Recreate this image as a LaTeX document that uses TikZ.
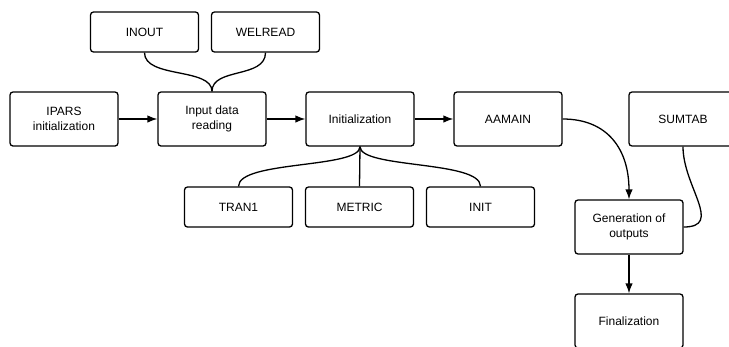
\documentclass[tikz,border=0pt]{standalone}
\usepackage{fontspec}
\setmainfont{Liberation Sans}
\usetikzlibrary{arrows.meta}
\begin{document}
\begin{tikzpicture}[x=1pt,y=-1pt,
  box/.style={draw=black, line width=1.3pt, rounded corners=3pt, fill=white,
    minimum width=108pt, minimum height=54pt, align=center, font=\fontsize{12}{14.5}\selectfont, inner sep=2pt},
  sbox/.style={box, minimum height=40pt},
  conn/.style={draw=black, line width=1.3pt},
  arr/.style={conn, -{Latex[length=10pt,width=7.5pt]}}]
\clip (0,0) rectangle (729,346);
\fill[white] (0,0) rectangle (729,346);
\node[sbox] (inout) at (144.5,32) {INOUT};
\node[sbox] (welread) at (265.5,32) {WELREAD};
\node[box] (ipars) at (64,119) {IPARS\\initialization};
\node[box] (input) at (212,119) {Input data\\reading};
\node[box] (initz) at (360,119) {Initialization};
\node[box] (aamain) at (508,119) {AAMAIN};
\node[box] (sumtab) at (683,119) {SUMTAB};
\node[sbox] (tran) at (238.5,207) {TRAN1};
\node[sbox] (metric) at (359.5,207) {METRIC};
\node[sbox] (init) at (480.5,207) {INIT};
\node[box] (gen) at (629,227) {Generation of\\outputs};
\node[box] (fin) at (629,321) {Finalization};
% connectors
\draw[arr] (ipars.east) -- (input.west);
\draw[arr] (input.east) -- (initz.west);
\draw[arr] (initz.east) -- (aamain.west);
\draw[conn] (inout.south) .. controls ++(0,26) and ++(0,-24) .. (input.north);
\draw[conn] (welread.south) .. controls ++(0,26) and ++(0,-24) .. (input.north);
\draw[conn] (initz.south) .. controls ++(0,22) and ++(0,-26) .. (tran.north);
\draw[conn] (initz.south) -- (metric.north);
\draw[conn] (initz.south) .. controls ++(0,22) and ++(0,-26) .. (init.north);
\draw[arr] (aamain.east) .. controls ++(45,0) and ++(0,-50) .. (gen.north);
\draw[conn] (sumtab.south) .. controls ++(0,40) and ++(40,0) .. (gen.east);
\draw[arr] (gen.south) -- (fin.north);
\end{tikzpicture}
\end{document}
